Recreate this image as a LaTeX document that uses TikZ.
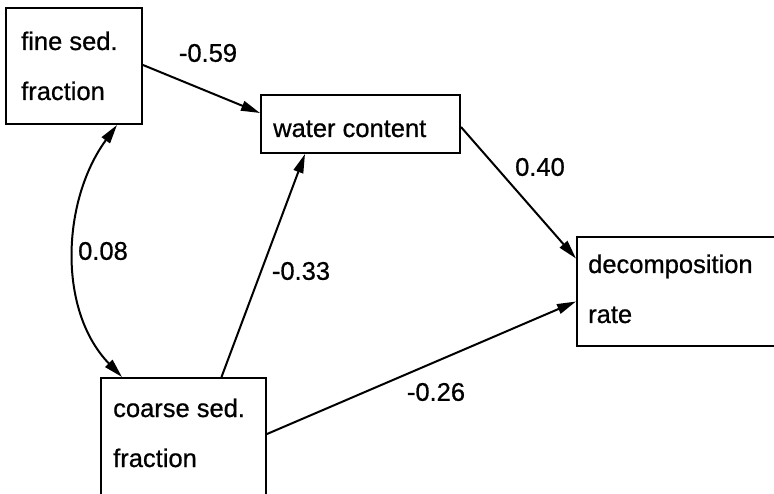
\documentclass[tikz,border=0pt]{standalone}
\usepackage{fontspec}
\setmainfont{Liberation Sans}[FakeBold=0.7]
\usetikzlibrary{arrows.meta}
\begin{document}
\begin{tikzpicture}[x=1pt,y=-1pt,
  box/.style={draw=black,line width=2pt,rectangle,inner sep=0pt},
  txt/.style={anchor=base west,inner sep=0pt,font=\fontsize{25.5}{30}\selectfont},
  lbl/.style={anchor=center,inner sep=0pt,font=\fontsize{25.5}{30}\selectfont},
  conn/.style={line width=2pt,-{Triangle[length=19pt,width=10pt]}},
  biconn/.style={line width=2pt,{Triangle[length=19pt,width=10pt]}-{Triangle[length=19pt,width=10pt]}}]
\clip (0,0) rectangle (774,494);
\fill[white] (0,0) rectangle (774,494);
% boxes
\node[box,minimum width=136pt,minimum height=116pt] (fine) at (74,66) {};
\node[box,minimum width=199pt,minimum height=58pt] (water) at (360.5,124) {};
\node[box,minimum width=205pt,minimum height=109pt] (decomp) at (679.5,291.5) {};
\node[box,minimum width=165pt,minimum height=124pt] (coarse) at (183.5,440) {};
% texts
\node[txt] (t1) at (21,50) {fine sed.};
\node[txt] (t2) at (21,100) {fraction};
\node[txt] (t3) at (273,137) {water content};
\node[txt] (t4) at (588,273) {decomposition};
\node[txt] (t5) at (588,323) {rate};
\node[txt] (t6) at (113,417) {coarse sed.};
\node[txt] (t7) at (113,467) {fraction};
% connectors
\draw[conn] ([yshift=1pt]fine.east) -- ([yshift=11pt]water.west);
\draw[conn] ([yshift=-3pt]water.east) -- ([yshift=33pt]decomp.west);
\draw[conn] ([yshift=-57pt]coarse.north east) -- ([yshift=-10pt]decomp.west);
\draw[conn] ([xshift=38pt]coarse.north) -- ([xshift=45pt]water.south west);
\draw[biconn] ([xshift=43pt]fine.south) .. controls (62,200) and (57,310) .. ([xshift=22pt]coarse.north west);
% labels
\node[lbl] (l1) at (208,53) {-0.59};
\node[lbl] (l2) at (540,167) {0.40};
\node[lbl] (l3) at (103,251) {0.08};
\node[lbl] (l4) at (301,271) {-0.33};
\node[lbl] (l5) at (436,392) {-0.26};
\end{tikzpicture}
\end{document}
